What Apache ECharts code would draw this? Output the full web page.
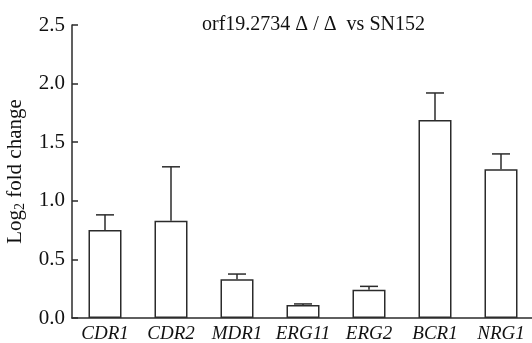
<!DOCTYPE html>
<html>
<head>
<meta charset="utf-8">
<script src="https://cdn.jsdelivr.net/npm/echarts@6/dist/echarts.min.js"></script>
<style>
  html, body { margin: 0; padding: 0; background: #fff; }
  #chart { width: 532px; height: 343px; }
</style>
</head>
<body>
<div id="chart"></div>
<script>
// 基因名称与 Log2 fold change
var genes = ["CDR1", "CDR2", "MDR1", "ERG11", "ERG2", "BCR1", "NRG1"];
var foldChange = [0.75, 0.83, 0.33, 0.11, 0.24, 1.69, 1.27];
// 误差条上端（均值 + SD）
var errorTop = [0.88, 1.29, 0.375, 0.12, 0.27, 1.92, 1.40];
var yTicks = [0, 0.5, 1.0, 1.5, 2.0, 2.5];

var serif = "'Liberation Serif', 'Times New Roman', serif";
var ink = "#2b2b2b";

var chart = echarts.init(document.getElementById("chart"));

var option = {
  animation: false,
  title: {
    text: "orf19.2734 \u0394 / \u0394  vs SN152",
    left: 197,
    top: 10,
    textStyle: { fontFamily: serif, fontWeight: "normal", fontSize: 20, color: "#111" }
  },
  grid: { left: 72, right: -2, top: 25, bottom: 25, containLabel: false, outerBoundsMode: "none" },
  xAxis: {
    type: "category",
    data: genes,
    axisTick: { show: false },
    axisLine: { lineStyle: { color: ink, width: 1.5 } },
    axisLabel: {
      fontFamily: serif,
      fontStyle: "italic",
      fontSize: 19,
      color: "#111",
      margin: 6,
      interval: 0
    }
  },
  yAxis: {
    type: "value",
    min: yTicks[0],
    max: yTicks[yTicks.length - 1],
    interval: 0.5,
    name: "{a|Log}{s|2}{a| fold change}",
    nameLocation: "middle",
    nameGap: 45,
    nameTextStyle: {
      rich: {
        a: { fontFamily: serif, fontSize: 21, color: "#111" },
        s: { fontFamily: serif, fontSize: 14, color: "#111", padding: [9, 0, 0, 0] }
      }
    },
    splitLine: { show: false },
    axisLine: { show: true, lineStyle: { color: ink, width: 1.5 } },
    axisTick: { show: true, inside: true, length: 6, lineStyle: { color: ink, width: 1.5 } },
    axisLabel: {
      fontFamily: serif,
      fontSize: 21,
      color: "#111",
      margin: 7,
      formatter: function (v) { return v.toFixed(1); }
    }
  },
  series: [
    {
      type: "bar",
      data: foldChange,
      barWidth: 33,
      itemStyle: { color: "#fff", borderColor: ink, borderWidth: 1.5 }
    },
    {
      type: "custom",
      data: genes.map(function (g, i) { return [i, foldChange[i], errorTop[i]]; }),
      renderItem: function (params, api) {
        var base = api.coord([api.value(0), api.value(1)]);
        var top = api.coord([api.value(0), api.value(2)]);
        var half = 9;
        return {
          type: "group",
          children: [
            { type: "line", shape: { x1: base[0], y1: base[1], x2: top[0], y2: top[1] },
              style: { stroke: ink, lineWidth: 1.5 } },
            { type: "line", shape: { x1: top[0] - half, y1: top[1], x2: top[0] + half, y2: top[1] },
              style: { stroke: ink, lineWidth: 1.5 } }
          ]
        };
      },
      z: 3
    }
  ]
};

chart.setOption(option);
</script>
</body>
</html>
